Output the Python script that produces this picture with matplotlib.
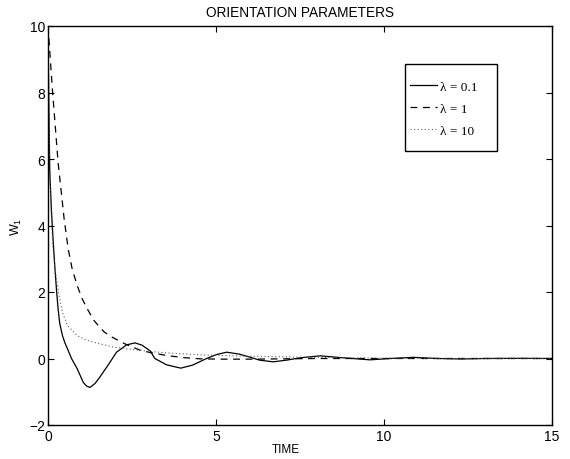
import matplotlib
matplotlib.use('Agg')
import matplotlib.pyplot as plt
from matplotlib.patches import Rectangle

plt.rcParams['font.family'] = ['Liberation Sans', 'DejaVu Sans']
plt.rcParams['mathtext.default'] = 'regular'

# values
t_a = [0, 0.02, 0.05, 0.1, 0.15, 0.2, 0.25, 0.3, 0.35, 0.43, 0.5, 0.58, 0.7, 0.87,
       1.05, 1.15, 1.25, 1.4, 1.55, 1.8, 2.04, 2.34, 2.59, 2.8, 3.04, 3.18, 3.53,
       3.95, 4.3, 4.72, 5.02, 5.32, 5.7, 6.01, 6.3, 6.7, 7.1, 7.5, 8.1, 8.8, 9.58,
       10.2, 10.87, 11.6, 12.3, 13, 14, 15]
w_a = [10, 8, 5.7, 4.5, 3.6, 2.8, 2.1, 1.5, 1.05, 0.69, 0.48, 0.29, 0.0, -0.31,
       -0.72, -0.83, -0.87, -0.75, -0.55, -0.18, 0.19, 0.41, 0.47, 0.4, 0.23, 0.0, -0.19,
       -0.29, -0.2, 0.0, 0.12, 0.19, 0.13, 0.04, -0.05, -0.1, -0.05, 0.02, 0.08, 0.02, -0.04,
       0.0, 0.035, 0.0, -0.015, 0.0, 0.005, 0]

t_b = [0, 0.13, 0.3, 0.48, 0.6, 0.72, 0.87, 1.02, 1.17, 1.37, 1.55, 1.67, 1.91,
       2.29, 2.74, 3.04, 3.53, 4.0, 4.52, 5.2, 6, 7, 8, 15]
w_b = [10, 8.1, 5.9, 4.2, 3.3, 2.69, 2.19, 1.79, 1.49, 1.14, 0.93, 0.8, 0.64,
       0.44, 0.25, 0.18, 0.09, 0.03, -0.01, -0.02, -0.02, -0.01, 0, 0]

t_c = [0, 0.03, 0.06, 0.1, 0.15, 0.22, 0.33, 0.43, 0.58, 0.87, 1.17, 1.55, 1.96,
       2.54, 3.04, 3.53, 4.52, 5.9, 7.5, 10, 12, 15]
w_c = [10, 7.5, 5.5, 4.2, 3.3, 2.6, 1.89, 1.39, 0.99, 0.69, 0.54, 0.44, 0.34,
       0.27, 0.21, 0.17, 0.11, 0.07, 0.04, 0.01, 0.0, 0]

labels = ['λ = 0.1', 'λ = 1', 'λ = 10']

fig = plt.figure(figsize=(5.7, 4.6), dpi=100)
ax = fig.add_axes([48/570, 34/460, 504/570, 399/460])

ax.plot(t_a, w_a, color='black', lw=0.9, label=labels[0])
ax.plot(t_b, w_b, color='black', lw=0.9, dashes=(5.5, 4.5), label=labels[1])
ax.plot(t_c, w_c, color='0.35', lw=0.8, linestyle=(0, (1, 2.2)), label=labels[2])

ax.set_xlim(0, 15)
ax.set_ylim(-2, 10)
ax.set_xticks([0, 5, 10, 15])
ax.set_yticks([-2, 0, 2, 4, 6, 8, 10])
ax.tick_params(direction='in', length=4, width=0.8, labelsize=10,
               top=True, right=True, pad=3)
ax.tick_params(axis='y', pad=2)
for s in ax.spines.values():
    s.set_linewidth(1.0)

ax.set_title('ORIENTATION PARAMETERS', fontsize=9.8, pad=7)
ax.set_xlabel('TIME', fontsize=8.5, labelpad=1)
ax.xaxis.set_label_coords(0.472, -0.045)
ax.set_ylabel('W$_1$', fontsize=9, labelpad=4)

# legend box drawn as its own frame, entries placed inside
ax.add_patch(Rectangle((0.708, 0.687), 0.183, 0.218, transform=ax.transAxes,
                       facecolor='white', edgecolor='black', lw=1.0, zorder=4))
leg = ax.legend(loc='upper left', bbox_to_anchor=(0.718, 0.864),
                borderaxespad=0, borderpad=0, frameon=False,
                prop={'family': 'Liberation Serif', 'size': 9.5},
                handlelength=2.05, handletextpad=0.25, labelspacing=0.75)
leg.set_zorder(5)

fig.savefig('out.png', dpi=100)
